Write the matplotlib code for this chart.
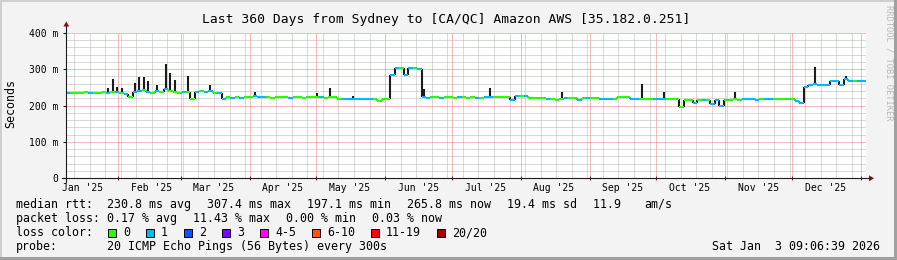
import numpy as np
import matplotlib
matplotlib.use("Agg")
import matplotlib.pyplot as plt
import matplotlib.dates as mdates
from matplotlib.ticker import MultipleLocator
from matplotlib.lines import Line2D
from matplotlib.patches import Rectangle, Polygon
from datetime import datetime, timedelta

plt.rcParams['font.family'] = 'DejaVu Sans Mono'

# --------------------------------------------------------------------------
# DATA (one value per 2-day bin)
# --------------------------------------------------------------------------
start = datetime(2025, 1, 8, 9, 6, 39)
end = datetime(2026, 1, 3, 9, 6, 39)
bin_days = 2

median_ms = [
    234, 235, 234, 233, 236, 234, 235, 233, 236, 234, 238, 236, 235, 232, 224, 236,
    240, 242, 238, 235, 240, 238, 245, 240, 236, 234, 236, 236, 219, 238, 240, 238,
    240, 234, 233, 219, 222, 220, 222, 221, 223, 222, 226, 224, 223, 222, 221, 223,
    224, 222, 221, 223, 222, 221, 222, 223, 224, 222, 221, 223, 222, 219, 218, 218,
    219, 218, 217, 218, 218, 218, 212, 218, 218, 285, 302, 303, 284, 302, 303, 300,
    222, 220, 223, 222, 221, 223, 222, 221, 223, 222, 221, 222, 220, 221, 222, 222,
    223, 223, 222, 223, 216, 227, 227, 226, 221, 221, 220, 221, 219, 219, 215, 219,
    220, 220, 220, 215, 221, 221, 221, 220, 219, 219, 218, 219, 223, 223, 222, 218,
    218, 218, 218, 218, 218, 219, 219, 218, 218, 218, 195, 216, 216, 208, 216, 216,
    216, 203, 216, 200, 216, 216, 217, 216, 217, 217, 217, 216, 217, 217, 218, 218,
    218, 218, 218, 217, 212, 206, 250, 257, 258, 255, 255, 255, 266, 266, 255, 272,
    268, 268, 268, 268,
]

# packets lost (of 20) per bin: 0 -> green, 1 -> blue
loss_per_bin = [int(c) for c in (
    "10000100010101"
    "0110101010001001011011"
    "0101001110000010000001000011"
    "11111000011011011100100010001011"
    "00001101000010001001010011100001"
    "1000111000000101011100001111011000001111111111111011"
)]

# smoke spikes: bin index and top of the smoke (ms)
spike_bins = [9, 10, 11, 12, 15, 16, 17, 18, 20, 22, 23, 24, 27, 32, 42, 56, 59,
              64, 80, 95, 111, 129, 134, 150, 168, 175]
spike_top_ms = [247, 274, 250, 247, 262, 277, 277, 268, 255, 315, 290, 270, 280,
                257, 238, 235, 249, 227, 245, 247, 236, 260, 238, 236, 305, 282]

y_ticks = [0, 100, 200, 300, 400]
y_tick_labels = ["0", "100 m", "200 m", "300 m", "400 m"]

rtt_values = [230.8, 307.4, 197.1, 265.8, 19.4]
rtt_names = ["avg", "max", "min", "now", "sd"]
am_s = 11.9
loss_values = [0.17, 11.43, 0.00, 0.03]
loss_names = ["avg", "max", "min", "now"]

legend_labels = ["0", "1", "2", "3", "4-5", "6-10", "11-19", "20/20"]
legend_colors = ["#26ff00", "#00b8ff", "#0059ff", "#7e00ff",
                 "#ff00fe", "#ff5500", "#ff0000", "#a10000"]

title = "Last 360 Days from Sydney to [CA/QC] Amazon AWS [35.182.0.251]"
probe = "20 ICMP Echo Pings (56 Bytes) every 300s"

# --------------------------------------------------------------------------
# FIGURE
# --------------------------------------------------------------------------
W, H = 897, 260
BG = '#f3f3f3'
DARK = '#1c1c1c'


def px(x, y):
    return x / W, 1 - y / H


fig = plt.figure(figsize=(W / 100, H / 100), dpi=100, facecolor=BG)
ax = fig.add_axes([66 / W, 1 - 178.3 / H, 800 / W, (178.3 - 32.7) / H])
ax.set_facecolor('white')

t0 = mdates.date2num(start)
t1 = mdates.date2num(end)
ax.set_xlim(t0, t1)
ax.set_ylim(0, 400)

edges = t0 + np.arange(len(median_ms) + 1) * bin_days
mids = (edges[:-1] + edges[1:]) / 2
colors = [legend_colors[c] for c in loss_per_bin]

# smoke
for b, top in zip(spike_bins, spike_top_ms):
    ax.vlines(mids[b], median_ms[b], top, color=DARK, lw=1.5, zorder=3)

# step connectors
for i in range(1, len(median_ms)):
    a, b = median_ms[i - 1], median_ms[i]
    c = DARK if abs(a - b) > 6 else colors[i]
    ax.vlines(edges[i], min(a, b), max(a, b), color=c, lw=1.5, zorder=3)

# median line coloured by loss
ax.hlines(median_ms, edges[:-1], edges[1:], colors=colors, lw=1.5,
          capstyle='butt', zorder=4)

# grid
ax.set_axisbelow(True)
month_starts = [datetime(2025, m, 1) for m in range(2, 13)] + [datetime(2026, 1, 1)]
ax.set_xticks([mdates.date2num(d) for d in month_starts])
ax.set_xticklabels([])
ax.xaxis.set_minor_locator(mdates.WeekdayLocator(byweekday=mdates.SU))
ax.set_yticks(y_ticks)
ax.set_yticklabels(y_tick_labels)
ax.yaxis.set_minor_locator(MultipleLocator(20))
ax.grid(which='minor', color='#b4b4b4', ls=(0, (1, 1)), lw=0.72)
ax.grid(which='major', color='#ee7c7c', ls=(0, (1, 1)), lw=0.72)
ax.tick_params(which='minor', length=0)
ax.tick_params(axis='y', which='major', length=2.5, width=0.8, color=DARK,
               labelsize=7, pad=3)
ax.tick_params(axis='x', which='major', length=2.5, width=0.8, color='#603030',
               direction='inout')
for s in ax.spines.values():
    s.set_visible(False)

# month labels, centred 15 days after the month start
for d in [datetime(2025, 1, 1)] + month_starts[:-1]:
    ax.annotate(d.strftime("%b '%y"), xy=(mdates.date2num(d + timedelta(days=15)), 0),
                xycoords=('data', 'axes fraction'), xytext=(0, -9.4),
                textcoords='offset pixels', ha='center', va='center', fontsize=7)

# axes with arrows
fig.add_artist(Line2D(*zip(px(62, 178.3), px(870, 178.3)), color=DARK, lw=0.8))
fig.add_artist(Line2D(*zip(px(66.3, 181.5), px(66.3, 26)), color=DARK, lw=0.8))
fig.add_artist(Polygon([px(869, 175.3), px(874, 178.3), px(869, 181.3)],
                       closed=True, color='#8b1010', lw=0))
fig.add_artist(Polygon([px(63.3, 26.5), px(66.3, 21.5), px(69.3, 26.5)],
                       closed=True, color='#8b1010', lw=0))

# frame
for x, y, w, h, c in [(0, 0, W, 2, '#cfcfcf'), (0, 0, 2, H, '#cfcfcf'),
                      (0, H - 3, W, 3, '#a0a0a0'), (W - 3, 0, 3, H, '#a0a0a0')]:
    fig.add_artist(Rectangle((x / W, 1 - (y + h) / H), w / W, h / H,
                             transform=fig.transFigure, color=c, lw=0))

# --------------------------------------------------------------------------
# TEXTS
# --------------------------------------------------------------------------
fig.text(*px(446.5, 19.3), title, ha='center', va='center', fontsize=9.4)
fig.text(*px(11, 104), "Seconds", rotation=90, ha='center', va='center', fontsize=8.4)
fig.text(*px(889, 5), "RRDTOOL / TOBI OETIKER", rotation=270, ha='center',
         va='top', fontsize=6.3, color='#b8b8b8')

CW = 7.0   # monospace advance in pixels
GAP = 16
FS = 8.37


def row(y, head, parts):
    fig.text(*px(16, y), head, ha='left', va='center', fontsize=FS)
    x = 107
    for p in parts:
        fig.text(*px(x, y), p, ha='left', va='center', fontsize=FS)
        x += len(p) * CW + GAP


rtt_parts = [f"{v:.1f} ms {n}" for v, n in zip(rtt_values, rtt_names)]
rtt_parts += [f"{am_s:.1f} ", "am/s"]
row(204.3, "median rtt:", rtt_parts)
row(218.3, "packet loss:", [f"{v:.2f} % {n}" for v, n in zip(loss_values, loss_names)])

fig.text(*px(16, 232.5), "loss color:", ha='left', va='center', fontsize=FS)
x = 108
for lab, col in zip(legend_labels, legend_colors):
    fig.add_artist(Rectangle((x / W, 1 - 236.7 / H), 8 / W, 8 / H,
                             transform=fig.transFigure, facecolor=col,
                             edgecolor='black', lw=0.7))
    fig.text(*px(x + 15, 232.5), lab, ha='left', va='center', fontsize=FS)
    x += 15 + len(lab) * CW + GAP

fig.text(*px(16, 246.3), "probe:", ha='left', va='center', fontsize=FS)
fig.text(*px(107, 246.3), probe, ha='left', va='center', fontsize=FS)
stamp = f"{end:%a %b} {end.day:2d} {end:%H:%M:%S %Y}"
fig.text(*px(880, 246.3), stamp, ha='right', va='center', fontsize=FS)

fig.savefig("out.png", dpi=100, facecolor=BG)
